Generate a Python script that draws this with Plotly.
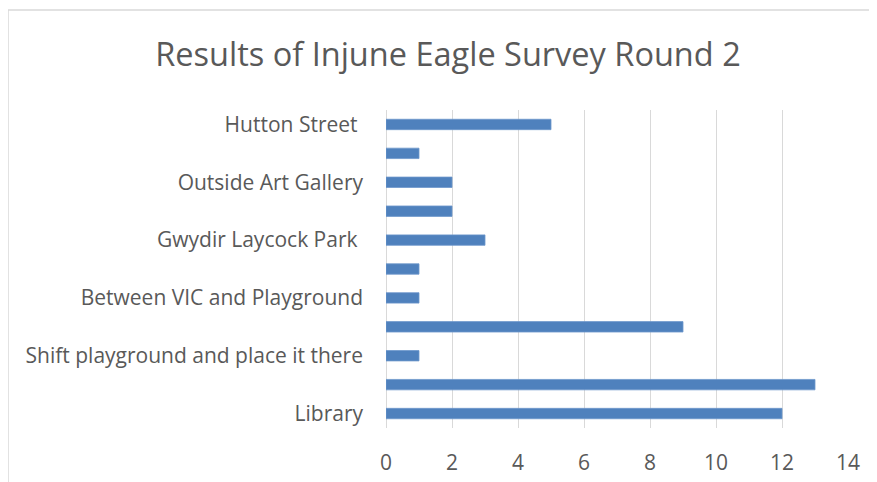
import plotly.graph_objects as go

# Data (bottom to top as drawn)
categories = [
    "Library", "", "Shift playground and place it there", "",
    "Between VIC and Playground", "", "Gwydir Laycock Park\u00a0", "",
    "Outside Art Gallery", "", "Hutton Street\u00a0",
]
values = [12, 13, 1, 9, 1, 1, 3, 2, 2, 1, 5]
x_ticks = [0, 2, 4, 6, 8, 10, 12, 14]

# page has an 8px body margin; work in page pixels, convert to figure pixels
OFF = 8
W, H = 877 - OFF, 482 - OFF
L = 386 - OFF
R = W - (848 - OFF)
T = 110 - OFF
B = H - (428 - OFF)
pw, ph = W - L - R, H - T - B

def px_x(p):  # page pixel -> paper x
    return (p - OFF - L) / pw

def px_y(p):  # page pixel -> paper y
    return (H - B - (p - OFF)) / ph

positions = list(range(len(values)))

fig = go.Figure(go.Bar(
    x=values, y=positions, orientation="h",
    width=0.36,
    marker=dict(color="#4F81BD", line=dict(color="#6D97CC", width=0.8)),
))

font_family = "'Open Sans', sans-serif"

fig.update_layout(
    width=W, height=H,
    margin=dict(l=L, r=R, t=T, b=B, autoexpand=False),
    paper_bgcolor="white", plot_bgcolor="white",
    showlegend=False,
    title=dict(
        text="Results of Injune Eagle Survey Round 2",
        x=(448 - OFF) / W, xanchor="center",
        y=1 - (55 - OFF) / H, yanchor="middle",
        font=dict(family=font_family, size=32.5, color="#595959"),
    ),
    font=dict(family=font_family, color="#595959"),
    xaxis=dict(
        range=[0, 14], tickvals=x_ticks, ticktext=[str(v) for v in x_ticks],
        showgrid=True, gridcolor="#D9D9D9", gridwidth=1.2,
        zeroline=True, zerolinecolor="#D9D9D9", zerolinewidth=1.2,
        showline=False, ticks="", ticklabelstandoff=20,
        tickfont=dict(size=21, color="#595959"), automargin=False,
    ),
    yaxis=dict(
        range=[-0.5, len(values) - 0.5],
        tickvals=positions, ticktext=categories,
        showgrid=False, zeroline=False, showline=False, ticks="",
        ticklabelstandoff=22, automargin=False,
        tickfont=dict(size=21, color="#595959"),
    ),
    shapes=[
        dict(type="line", xref="paper", yref="paper",
             x0=px_x(8), x1=px_x(880), y0=px_y(10), y1=px_y(10),
             line=dict(color="#D9D9D9", width=1.5)),
        dict(type="line", xref="paper", yref="paper",
             x0=px_x(8), x1=px_x(8), y0=px_y(10), y1=px_y(490),
             line=dict(color="#D9D9D9", width=1.5)),
    ],
)

fig.write_html("out.html")
